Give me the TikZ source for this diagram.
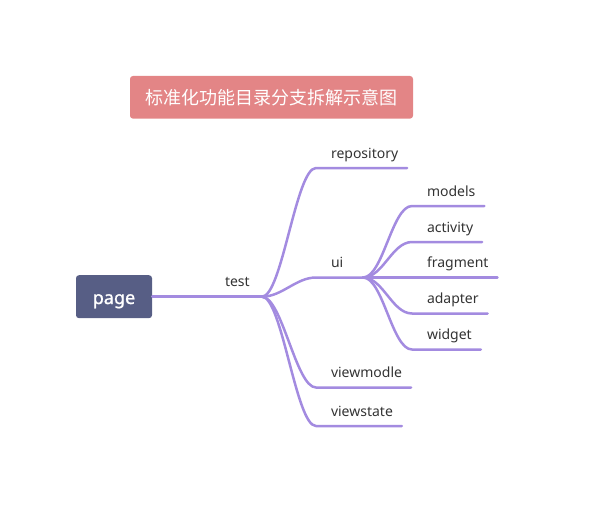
\documentclass[tikz,border=0pt]{standalone}
\usepackage{fontspec}
\setmainfont{Noto Sans}
\newfontfamily\cjkfont{Noto Sans CJK SC}
\newfontfamily\rootfont[FakeBold=1.2]{Noto Sans}
\definecolor{titlered}{HTML}{E38586}
\definecolor{pageblue}{HTML}{575E85}
\definecolor{branchpurple}{HTML}{A38BE0}
\definecolor{leaftext}{HTML}{333333}
\newlength{\LeafPad}
\newlength{\LeafTail}
\setlength{\LeafPad}{15pt}
\setlength{\LeafTail}{9pt}
\tikzset{
  title node/.style={fill=titlered, text=white, rounded corners=3pt, minimum width=283pt, minimum height=42.7pt, font=\cjkfont\fontsize{18}{22}\selectfont},
  root node/.style={fill=pageblue, text=white, rounded corners=3pt, minimum width=76pt, minimum height=43pt, text height=14.6pt, text depth=0pt, font=\rootfont\fontsize{18}{22}\selectfont},
  leaf node/.style={anchor=south west, inner xsep=0pt, inner ysep=10pt, outer sep=0pt, text depth=0pt, text=leaftext, font=\fontsize{14}{17}\selectfont},
  branch line/.style={draw=branchpurple, line width=2.5pt, line cap=round},
}

\begin{document}
\begin{tikzpicture}[
  x=1pt, y=-1pt,
  mind curve/.style={to path={.. controls +(20,0) and +(-20,0) .. (\tikztotarget)}}
]
  \useasboundingbox (0,0) rectangle (600,522);
  \node[title node] (title) at (271.5,97.3) {标准化功能目录分支拆解示意图};
  \node[root node] (page) at (114,296.7) {page};
  \coordinate (hub) at (262,296.7);
  \coordinate (ui hub) at (363,277.5);

  \node[leaf node] (test) at (225,296.7) {test};
  \draw[branch line] (page.east) -- (hub);

  \node[leaf node] (repository) at (331,168) {repository};
  \node[leaf node] (ui) at (331,277.5) {ui};
  \node[leaf node] (viewmodle) at (331,387.5) {viewmodle};
  \node[leaf node] (viewstate) at (331,426) {viewstate};
  \draw[branch line] (hub) to[mind curve] ([xshift=-\LeafPad]repository.south west) -- ([xshift=\LeafTail]repository.south east);
  \draw[branch line] (hub) to[mind curve] ([xshift=-\LeafPad]ui.south west) -- (ui hub);
  \draw[branch line] (hub) to[mind curve] ([xshift=-\LeafPad]viewmodle.south west) -- ([xshift=\LeafTail]viewmodle.south east);
  \draw[branch line] (hub) to[mind curve] ([xshift=-\LeafPad]viewstate.south west) -- ([xshift=\LeafTail]viewstate.south east);

  \node[leaf node] (models) at (427,206) {models};
  \node[leaf node] (activity) at (427,242) {activity};
  \node[leaf node] (fragment) at (427,277.5) {fragment};
  \node[leaf node] (adapter) at (427,313.5) {adapter};
  \node[leaf node] (widget) at (427,349.5) {widget};
  \draw[branch line] (ui hub) to[mind curve] ([xshift=-\LeafPad]models.south west) -- ([xshift=\LeafTail]models.south east);
  \draw[branch line] (ui hub) to[mind curve] ([xshift=-\LeafPad]activity.south west) -- ([xshift=\LeafTail]activity.south east);
  \draw[branch line] (ui hub) to[mind curve] ([xshift=-\LeafPad]fragment.south west) -- ([xshift=\LeafTail]fragment.south east);
  \draw[branch line] (ui hub) to[mind curve] ([xshift=-\LeafPad]adapter.south west) -- ([xshift=\LeafTail]adapter.south east);
  \draw[branch line] (ui hub) to[mind curve] ([xshift=-\LeafPad]widget.south west) -- ([xshift=\LeafTail]widget.south east);
\end{tikzpicture}
\end{document}
